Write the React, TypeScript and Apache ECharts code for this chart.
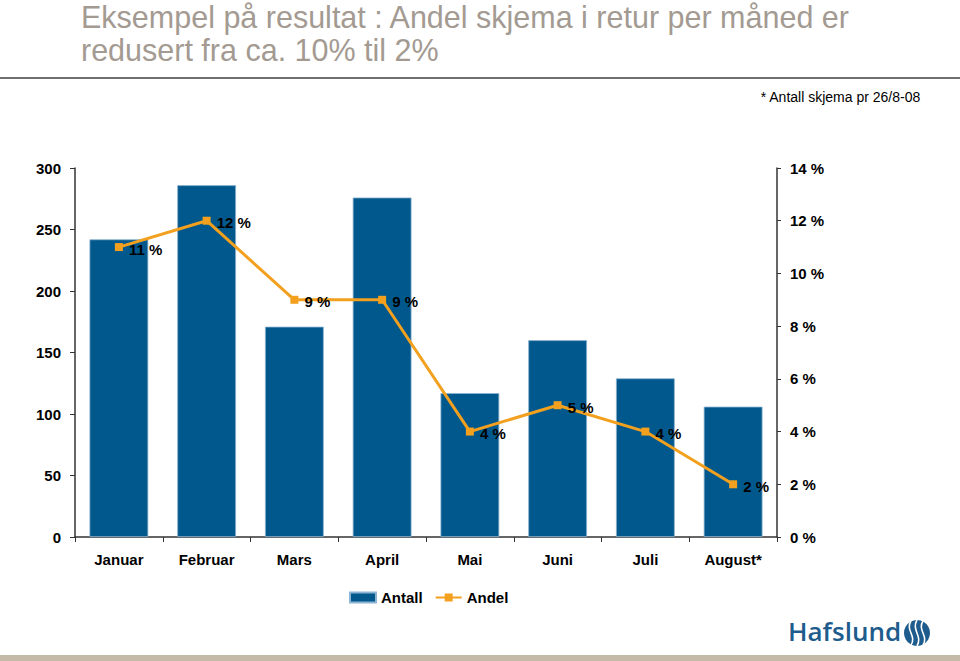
import React, { useEffect, useRef } from "react";
import * as echarts from "echarts";

const months = ["Januar", "Februar", "Mars", "April", "Mai", "Juni", "Juli", "August*"];
const antall = [242, 286, 171, 276, 117, 160, 129, 106];
const andel = [11, 12, 9, 9, 4, 5, 4, 2];
const titleLines = [
  "Eksempel på resultat : Andel skjema i retur per måned er",
  "redusert fra ca. 10% til 2%",
];
const noteText = "* Antall skjema pr 26/8-08";

const FONT = "'Liberation Sans', Arial, Helvetica, sans-serif";
const BLUE = "#00588C";
const ORANGE = "#F2A01E";

export default function App() {
  const ref = useRef<HTMLDivElement>(null);
  useEffect(() => {
    if (!ref.current) return;
    const chart = echarts.init(ref.current, null, { renderer: "svg" });
    chart.setOption({
      animation: false,
      backgroundColor: "#ffffff",
      textStyle: { fontFamily: FONT },
      grid: { left: 75, right: 183, top: 168, bottom: 124, containLabel: false },
      legend: {
        left: 344,
        top: 585,
        itemWidth: 26,
        itemHeight: 10,
        itemGap: 12,
        textStyle: { fontSize: 15, fontWeight: "bold", color: "#000", fontFamily: FONT },
        data: [
          { name: "Antall", icon: "rect" },
          { name: "Andel" },
        ],
      },
      xAxis: {
        type: "category",
        data: months,
        axisLine: { show: true, lineStyle: { color: "#333", width: 1.5 } },
        axisTick: { show: true, alignWithLabel: false, length: 5, lineStyle: { color: "#333" } },
        axisLabel: { fontSize: 15, fontWeight: "bold", color: "#000", margin: 15, interval: 0 },
      },
      yAxis: [
        {
          type: "value",
          min: 0,
          max: 300,
          interval: 50,
          position: "left",
          axisLine: { show: true, lineStyle: { color: "#333", width: 1.5 } },
          axisTick: { show: true, length: 5, inside: false, lineStyle: { color: "#333" } },
          splitLine: { show: false },
          axisLabel: { fontSize: 15, fontWeight: "bold", color: "#000", margin: 14 },
        },
        {
          type: "value",
          min: 0,
          max: 14,
          interval: 2,
          position: "right",
          axisLine: { show: true, lineStyle: { color: "#333", width: 1.5 } },
          axisTick: { show: true, length: 4, lineStyle: { color: "#333" } },
          splitLine: { show: false },
          axisLabel: {
            fontSize: 15,
            fontWeight: "bold",
            color: "#000",
            margin: 13,
            formatter: "{value} %",
          },
        },
      ],
      series: [
        {
          name: "Antall",
          type: "bar",
          data: antall,
          yAxisIndex: 0,
          barCategoryGap: "33%",
          itemStyle: { color: BLUE, borderColor: "#8DB4D2", borderWidth: 0.8 },
        },
        {
          name: "Andel",
          type: "line",
          data: andel,
          yAxisIndex: 1,
          symbol: "rect",
          symbolSize: 8,
          lineStyle: { color: ORANGE, width: 3 },
          itemStyle: { color: ORANGE },
          label: {
            show: true,
            position: "right",
            distance: 6,
            offset: [0, 2],
            fontSize: 15,
            fontWeight: "bold",
            color: "#000",
            formatter: (p: any) => p.value + " %",
          },
        },
      ],
      graphic: [
        {
          type: "text",
          left: 81,
          top: 1,
          style: {
            text: titleLines[0],
            fontSize: 30.5,
            fontFamily: FONT,
            fill: "#A39A92",
          },
        },
        {
          type: "text",
          left: 81,
          top: 34,
          style: {
            text: titleLines[1],
            fontSize: 30.5,
            fontFamily: FONT,
            fill: "#A39A92",
          },
        },
        {
          type: "line",
          shape: { x1: 0, y1: 78, x2: 960, y2: 78 },
          style: { stroke: "#707070", lineWidth: 2 },
        },
        {
          type: "text",
          right: 39,
          top: 90,
          style: {
            text: noteText,
            fontSize: 14,
            fontFamily: "'Liberation Sans Narrow', 'Arial Narrow', " + FONT,
            fill: "#000",
          },
        },
        {
          type: "text",
          left: 788,
          top: 618,
          style: {
            text: "Hafslund",
            fontSize: 26,
            fontWeight: 600,
            fontFamily: "'Open Sans', 'Noto Sans', sans-serif",
            fill: "#1D5C8C",
          },
        },
        {
          type: "circle",
          shape: { cx: 917, cy: 633, r: 13 },
          style: { fill: "#1D5C8C" },
        },
        {
          type: "bezierCurve",
          shape: { x1: 911, y1: 621, cpx1: 905, cpy1: 630, cpx2: 917, cpy2: 636, x2: 911, y2: 645 },
          style: { stroke: "#fff", lineWidth: 1.6, fill: "none" },
        },
        {
          type: "bezierCurve",
          shape: { x1: 917, y1: 620, cpx1: 911, cpy1: 630, cpx2: 923, cpy2: 636, x2: 917, y2: 646 },
          style: { stroke: "#fff", lineWidth: 1.6, fill: "none" },
        },
        {
          type: "bezierCurve",
          shape: { x1: 923, y1: 621, cpx1: 917, cpy1: 630, cpx2: 929, cpy2: 636, x2: 923, y2: 645 },
          style: { stroke: "#fff", lineWidth: 1.6, fill: "none" },
        },
        {
          type: "rect",
          shape: { x: 0, y: 655, width: 960, height: 6 },
          style: { fill: "#C5B9A8" },
        },
      ],
    });
    return () => chart.dispose();
  }, []);
  return <div ref={ref} style={{ width: 960, height: 661, position: "absolute", left: 0, top: 0 }} />;
}
